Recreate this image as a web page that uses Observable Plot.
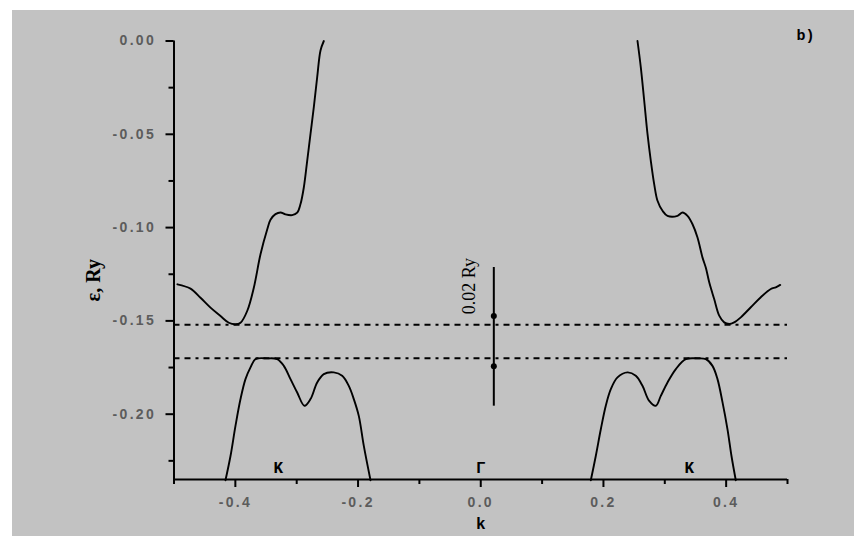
<!DOCTYPE html>
<html>
<head>
<meta charset="utf-8">
<script src="https://cdn.jsdelivr.net/npm/d3@7"></script>
<script src="https://cdn.jsdelivr.net/npm/@observablehq/plot@0.6"></script>
<style>
  html, body { margin: 0; padding: 0; background: #ffffff; }
  #wrap { padding: 10px 0 0 12px; width: 842px; height: 526px; overflow: hidden; }
  svg g[aria-label="x-axis tick label"] text,
  svg g[aria-label="y-axis tick label"] text { letter-spacing: 2.3px; }
</style>
</head>
<body>
<div id="wrap"></div>
<script>
// Axis domains and ticks
const xDomain = [-0.5, 0.5];
const yDomain = [-0.235, 0];
const xTicks = [-0.4, -0.2, 0, 0.2, 0.4];
const xTickLabels = ["-0.4", "-0.2", "0.0", "0.2", "0.4"];
const xMinorTicks = [-0.5, -0.3, -0.1, 0.1, 0.3, 0.5];
const yTicks = [0, -0.05, -0.10, -0.15, -0.20];
const yTickLabels = ["0.00", "-0.05", "-0.10", "-0.15", "-0.20"];
const yMinorTicks = [-0.025, -0.075, -0.125, -0.175, -0.225];

// Upper band, left branch
const upperLeftK = [-0.4944, -0.4731, -0.4568, -0.4405, -0.4242, -0.4106, -0.3998, -0.3916, -0.3807, -0.3699, -0.3590, -0.3481, -0.3427, -0.3346, -0.3264, -0.3183, -0.3074, -0.2992, -0.2938, -0.2884, -0.2829, -0.2775, -0.2721, -0.2666, -0.2612, -0.2558];
const upperLeftE = [-0.1304, -0.1327, -0.1376, -0.1429, -0.1474, -0.1510, -0.1518, -0.1510, -0.1447, -0.1322, -0.1143, -0.1010, -0.0958, -0.0928, -0.0919, -0.0929, -0.0933, -0.0920, -0.0874, -0.0785, -0.0642, -0.0498, -0.0355, -0.0194, -0.0051, 0.0];
// Upper band, right branch
const upperRightK = [0.2555, 0.2609, 0.2664, 0.2718, 0.2772, 0.2827, 0.2881, 0.2963, 0.3044, 0.3207, 0.3289, 0.3370, 0.3452, 0.3533, 0.3615, 0.3669, 0.3724, 0.3805, 0.3887, 0.3968, 0.4050, 0.4131, 0.4239, 0.4402, 0.4565, 0.4728, 0.4809, 0.4881];
const upperRightE = [0.0, -0.0141, -0.0319, -0.0498, -0.0642, -0.0767, -0.0856, -0.0910, -0.0937, -0.0937, -0.0919, -0.0937, -0.0982, -0.1053, -0.1161, -0.1215, -0.1293, -0.1383, -0.1472, -0.1508, -0.1517, -0.1508, -0.1481, -0.1427, -0.1373, -0.1329, -0.1320, -0.1307];
// Lower band, left branch
const lowerLeftK = [-0.4161, -0.4079, -0.3998, -0.3916, -0.3835, -0.3753, -0.3672, -0.3481, -0.3318, -0.3210, -0.3101, -0.2992, -0.2873, -0.2775, -0.2666, -0.2558, -0.2395, -0.2259, -0.2151, -0.2069, -0.1988, -0.1906, -0.1797];
const lowerLeftE = [-0.2354, -0.2224, -0.2063, -0.1919, -0.1812, -0.1749, -0.1705, -0.1701, -0.1705, -0.1741, -0.1812, -0.1884, -0.1955, -0.1919, -0.1830, -0.1785, -0.1776, -0.1794, -0.1848, -0.1919, -0.2009, -0.2170, -0.2354];
// Lower band, right branch
const lowerRightK = [0.1794, 0.1875, 0.1957, 0.2038, 0.2120, 0.2229, 0.2392, 0.2527, 0.2636, 0.2746, 0.2854, 0.2935, 0.3044, 0.3180, 0.3342, 0.3533, 0.3669, 0.3777, 0.3859, 0.3941, 0.4022, 0.4087, 0.4157];
const lowerRightE = [-0.2354, -0.2224, -0.2081, -0.1955, -0.1866, -0.1803, -0.1776, -0.1794, -0.1848, -0.1929, -0.1955, -0.1902, -0.1830, -0.1758, -0.1705, -0.1701, -0.1705, -0.1741, -0.1812, -0.1937, -0.2081, -0.2224, -0.2354];

// Reference levels (dash-dot lines)
const levels = [-0.152, -0.170];

// Scale bar "0.02 Ry"
const barK = 0.0213;
const barRange = [-0.1214, -0.1957];
const barDots = [-0.1474, -0.1743];
const barLabel = "0.02 Ry";
const barLabelE = -0.1465;

// Symmetry-point labels
const pointLabels = ["K", "Γ", "K"];
const pointK = [-0.330, 0.0, 0.340];
const pointE = -0.2286;

const toPts = (ks, es) => ks.map((k, i) => ({k, e: es[i]}));
const branches = [
  toPts(upperLeftK, upperLeftE),
  toPts(upperRightK, upperRightE),
  toPts(lowerLeftK, lowerLeftE),
  toPts(lowerRightK, lowerRightE)
];

const fmtX = d => xTickLabels[xTicks.findIndex(t => Math.abs(t - d) < 1e-9)];
const fmtY = d => yTickLabels[yTicks.findIndex(t => Math.abs(t - d) < 1e-9)];

const monoFont = "'Liberation Mono', 'Courier New', monospace";
const tickFont = "'Liberation Sans', Arial, sans-serif";

const plot = Plot.plot({
  width: 842,
  height: 526,
  marginLeft: 161.5,
  marginRight: 67,
  marginTop: 30.5,
  marginBottom: 57,
  style: {background: "#c2c2c2", color: "black", overflow: "visible"},
  x: {domain: xDomain},
  y: {domain: yDomain},
  marks: [
    // dash-dot levels
    Plot.ruleY(levels, {x1: xDomain[0], x2: xDomain[1], stroke: "black", strokeWidth: 2, strokeDasharray: "6,5,6,5,3,5"}),
    // bands
    ...branches.map(b => Plot.line(b, {x: "k", y: "e", curve: "catmull-rom", stroke: "black", strokeWidth: 1.9})),
    // scale bar
    Plot.ruleX([barK], {y1: barRange[0], y2: barRange[1], stroke: "black", strokeWidth: 2}),
    Plot.dot(barDots, {x: () => barK, y: d => d, r: 3, fill: "black"}),
    Plot.text([barLabel], {x: () => barK, y: () => barLabelE, text: d => d, rotate: -90, textAnchor: "start", lineAnchor: "middle", dx: -25, fontFamily: "'Liberation Serif', serif", fontSize: 18, fill: "black"}),
    // point labels
    Plot.text(pointLabels, {x: (d, i) => pointK[i], y: () => pointE, text: d => d, fontFamily: monoFont, fontWeight: "bold", fontSize: 16, fill: "black"}),
    // axis lines
    Plot.ruleX([xDomain[0]], {y1: yDomain[0], y2: yDomain[1], stroke: "black", strokeWidth: 2}),
    Plot.ruleY([yDomain[0]], {x1: xDomain[0], x2: xDomain[1], stroke: "black", strokeWidth: 2}),
    // axes
    Plot.axisX({ticks: xTicks, tickSize: 8, tickPadding: 10, tickFormat: fmtX, label: null, stroke: "black", strokeWidth: 2, fill: "#5c5c5c", fontSize: 14, fontWeight: "bold", fontFamily: tickFont}),
    Plot.axisX({ticks: xMinorTicks, tickSize: 5, tickFormat: () => "", label: null, stroke: "black", strokeWidth: 2}),
    Plot.axisY({ticks: yTicks, tickSize: 8, tickPadding: 10, tickFormat: fmtY, label: null, stroke: "black", strokeWidth: 2, fill: "#5c5c5c", fontSize: 14, fontWeight: "bold", fontFamily: tickFont}),
    Plot.axisY({ticks: yMinorTicks, tickSize: 5, tickFormat: () => "", label: null, stroke: "black", strokeWidth: 2}),
    // axis titles and panel label
    Plot.text(["k"], {frameAnchor: "bottom", text: d => d, lineAnchor: "middle", dy: 44, fontFamily: monoFont, fontWeight: "bold", fontSize: 16, fill: "black"}),
    Plot.text(["ε, Ry"], {frameAnchor: "left", text: d => d, rotate: -90, textAnchor: "middle", lineAnchor: "middle", dx: -80, dy: 20, fontFamily: "'Liberation Serif', serif", fontWeight: "bold", fontSize: 20, fill: "black"}),
    Plot.text(["b)"], {frameAnchor: "top-right", text: d => d, textAnchor: "middle", lineAnchor: "middle", dx: 18, dy: -5.5, fontFamily: monoFont, fontWeight: "bold", fontSize: 15, fill: "black"})
  ]
});
document.getElementById("wrap").appendChild(plot);
</script>
</body>
</html>
